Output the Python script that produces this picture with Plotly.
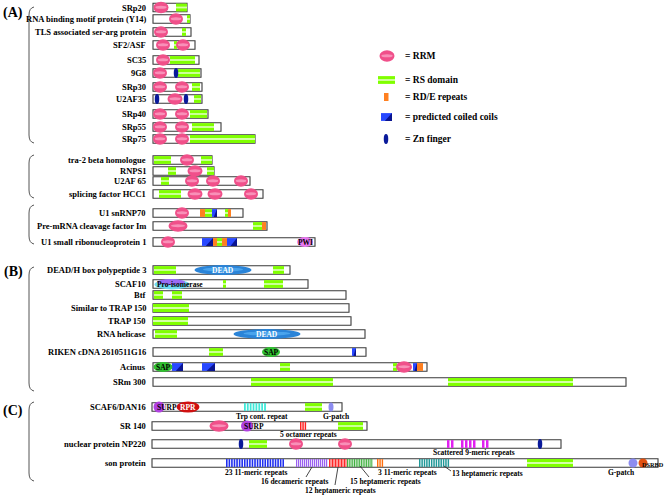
import plotly.graph_objects as go

# ---------------- data ----------------
names = ["SRp20", "RNA binding motif protein (Y14)", "TLS associated ser-arg protein", "SF2/ASF",
         "SC35", "9G8", "SRp30", "U2AF35", "SRp40", "SRp55", "SRp75",
         "tra-2 beta homologue", "RNPS1", "U2AF 65", "splicing factor HCC1",
         "U1 snRNP70", "Pre-mRNA cleavage factor Im", "U1 small ribonucleoprotein 1",
         "DEAD/H box polypeptide 3", "SCAF10", "Btf", "Similar to TRAP 150", "TRAP 150",
         "RNA helicase", "RIKEN cDNA 2610511G16", "Acinus", "SRm 300",
         "SCAF6/DAN16", "SR 140", "nuclear protein NP220", "son protein"]
row_y = [7.5, 19, 32, 45, 60, 73, 87, 99, 114, 127, 139,
         160, 171, 181, 194,
         213, 226, 242,
         270, 284, 295, 308, 321, 334, 352, 367, 382,
         407, 426, 444, 463]
seq_start = [153] * 27 + [152] * 4
seq_end = [187, 190, 191, 195, 199, 201, 202, 202, 208, 221, 255,
           212, 214, 250, 263,
           243, 267, 315,
           290, 308, 346, 349, 351, 365, 366, 427, 626,
           342, 367, 561, 658]

# RS domains (protein, start, end)
rs_domains = [("SRp20", 176, 187), ("RNA binding motif protein (Y14)", 187, 190),
              ("TLS associated ser-arg protein", 182, 186), ("SF2/ASF", 174, 177),
              ("SC35", 170, 195), ("9G8", 178, 200), ("SRp30", 192, 200), ("U2AF35", 194, 201),
              ("SRp40", 190, 207), ("SRp55", 192, 214), ("SRp75", 190, 255),
              ("tra-2 beta homologue", 154, 171), ("tra-2 beta homologue", 201, 212),
              ("RNPS1", 168, 176), ("RNPS1", 207, 214), ("U2AF 65", 161, 169),
              ("splicing factor HCC1", 159, 181),
              ("U1 snRNP70", 205, 212), ("U1 snRNP70", 225, 228),
              ("Pre-mRNA cleavage factor Im", 253, 262),
              ("U1 small ribonucleoprotein 1", 217, 222),
              ("DEAD/H box polypeptide 3", 154, 176), ("DEAD/H box polypeptide 3", 273, 284),
              ("SCAF10", 223, 226), ("SCAF10", 264, 283),
              ("Btf", 154, 163), ("Btf", 172, 182),
              ("Similar to TRAP 150", 153, 189), ("TRAP 150", 153, 188),
              ("RNA helicase", 155, 177), ("RIKEN cDNA 2610511G16", 209, 223),
              ("Acinus", 280, 290), ("Acinus", 393, 397),
              ("SRm 300", 251, 333), ("SRm 300", 448, 573),
              ("SCAF6/DAN16", 305, 322), ("SR 140", 338, 363),
              ("nuclear protein NP220", 249, 267), ("son protein", 527, 573)]

# RRM (protein, centre, width)
rrm = [("SRp20", 161, 15), ("RNA binding motif protein (Y14)", 176, 14),
       ("TLS associated ser-arg protein", 161, 14), ("SF2/ASF", 163, 14), ("SF2/ASF", 183, 14),
       ("SC35", 163, 14), ("9G8", 160, 14), ("SRp30", 160, 14), ("SRp30", 182, 14),
       ("U2AF35", 175, 15), ("SRp40", 160, 14), ("SRp40", 182, 14),
       ("SRp55", 160, 14), ("SRp55", 182, 14), ("SRp75", 160, 14), ("SRp75", 182, 14),
       ("tra-2 beta homologue", 187, 14), ("RNPS1", 195, 15),
       ("U2AF 65", 192, 14), ("U2AF 65", 213, 14), ("U2AF 65", 241, 14),
       ("splicing factor HCC1", 195, 15), ("splicing factor HCC1", 215, 15),
       ("splicing factor HCC1", 251, 14),
       ("U1 snRNP70", 182, 14), ("Pre-mRNA cleavage factor Im", 178, 19),
       ("U1 small ribonucleoprotein 1", 168, 14), ("Acinus", 404, 16),
       ("SR 140", 219, 19), ("nuclear protein NP220", 296, 14), ("nuclear protein NP220", 345, 14)]

# Zn fingers (protein, centre)
zn_fingers = [("9G8", 176), ("U2AF35", 157), ("U2AF35", 186),
              ("nuclear protein NP220", 241), ("nuclear protein NP220", 540)]

# RD/E repeats (protein, start, end)
rde = [("U1 snRNP70", 200, 205), ("U1 snRNP70", 228, 231), ("Pre-mRNA cleavage factor Im", 262, 266),
       ("U1 small ribonucleoprotein 1", 213, 217), ("U1 small ribonucleoprotein 1", 222, 227),
       ("Acinus", 417, 423)]

# predicted coiled coils (protein, start, end)
coils = [("U1 snRNP70", 212, 217), ("U1 small ribonucleoprotein 1", 202, 213),
         ("U1 small ribonucleoprotein 1", 227, 237), ("RIKEN cDNA 2610511G16", 352, 356),
         ("Acinus", 172, 183), ("Acinus", 202, 215), ("Acinus", 413, 417)]

# other named domains (protein, kind, label, centre, width)
other_domains = [("U1 small ribonucleoprotein 1", "PWI", "PWI", 305, 16),
                 ("DEAD/H box polypeptide 3", "DEAD", "DEAD", 223, 57),
                 ("SCAF10", "PRO", "Pro-isomerase", 172, 35),
                 ("RNA helicase", "DEAD", "DEAD", 267, 67),
                 ("RIKEN cDNA 2610511G16", "SAP", "SAP", 271, 18),
                 ("Acinus", "SAP", "SAP", 163, 19),
                 ("SCAF6/DAN16", "SURP", "SURP", 159, 11),
                 ("SCAF6/DAN16", "RPR", "RPR", 188, 23),
                 ("SCAF6/DAN16", "GP", "", 331, 5),
                 ("SR 140", "SURP", "SURP", 247, 12),
                 ("son protein", "GP", "", 633, 9),
                 ("son protein", "DSRBD", "DSRBD", 643, 9)]

# repeat blocks (protein, start, end, number of stripes, colour)
repeats = [("SCAF6/DAN16", 244, 267, 8, "#40e8d8"),
           ("SR 140", 300, 307, 3, "#ff2020"),
           ("nuclear protein NP220", 447, 455, 2, "#e020f0"),
           ("nuclear protein NP220", 461, 477, 4, "#e020f0"),
           ("nuclear protein NP220", 482, 490, 2, "#e020f0"),
           ("son protein", 226, 285, 23, "#2030f0"),
           ("son protein", 296, 328, 16, "#9a60f0"),
           ("son protein", 329, 347, 12, "#ff1818"),
           ("son protein", 347, 373, 15, "#40b040"),
           ("son protein", 377, 384, 3, "#ff7010"),
           ("son protein", 419, 450, 13, "#209898")]

# repeat labels (text, x, y)
repeat_labels = [("Trp cont. repeat", 262, 416), ("G-patch", 336, 416),
                 ("5 octamer repeats", 308, 434), ("Scattered 9-meric repeats", 474, 452),
                 ("23 11-meric repeats", 256, 472), ("16 decameric repeats", 294, 481),
                 ("12 heptameric repeats", 340, 490), ("15 heptameric repeats", 385, 481),
                 ("3 11-meric repeats", 407, 472), ("13 heptameric repeats", 487, 473),
                 ("G-patch", 621, 472)]
leader_lines = [(312, 467, 306, 477), (338, 467, 335, 485), (360, 466, 369, 477), (444, 466, 451, 471)]

# sections and brackets
section_labels = [("(A)", 13, 13), ("(B)", 13, 272), ("(C)", 13, 411)]
brackets = [(7, 143), (155, 198), (205, 244), (267, 391), (402, 481)]

legend_items = ["= RRM", "= RS domain", "= RD/E repeats", "= predicted coiled coils", "= Zn finger"]
legend_y = [56, 80, 97, 117, 139]

# ---------------- drawing ----------------
FONT = "Liberation Serif, Times New Roman, serif"
ymap = dict(zip(names, row_y))
H = 4.2
shapes = []
annots = []


def rect(x0, x1, y0, y1, fill, line="rgba(0,0,0,0)", lw=0):
    shapes.append(dict(type="rect", x0=x0, x1=x1, y0=y0, y1=y1, fillcolor=fill,
                       line=dict(color=line, width=lw), layer="above"))


def ell(xc, yc, w, h, fill):
    shapes.append(dict(type="circle", x0=xc - w / 2, x1=xc + w / 2, y0=yc - h / 2, y1=yc + h / 2,
                       fillcolor=fill, line=dict(width=0), layer="above"))


def text(t, x, y, size=8.5, anchor="center", color="black"):
    annots.append(dict(text="<b>" + t + "</b>", x=x, y=y, xanchor=anchor, yanchor="middle",
                       showarrow=False, font=dict(family=FONT, size=size, color=color)))


def rs_box(x0, x1, y):
    rect(x0, x1, y - H + 0.3, y + H - 0.3, "#80ff00")
    rect(x0, x1, y - 0.9, y + 0.9, "#d4ffa8")


def rrm_shape(xc, y, w):
    ell(xc, y, w, 11.5, "#f0508a")
    ell(xc, y - 0.3, w * 0.75, 3, "#f890b8")


def coil_shape(x0, x1, y):
    rect(x0, x1, y - H + 0.3, y + H - 0.3, "#2848ff")
    shapes.append(dict(type="path", path=f"M {x0+(x1-x0)*0.35},{y+H-0.3} L {x1},{y-H+0.3} L {x1},{y+H-0.3} Z",
                       fillcolor="#0a1490", line=dict(width=0), layer="above"))


# bars
for n, y, s, e in zip(names, row_y, seq_start, seq_end):
    rect(s, e, y - H, y + H, "white", "#3a3a3a", 1.1)
    text(n, 148, y, 8.5, "right")

for p, x0, x1 in rs_domains:
    rs_box(x0, x1, ymap[p])
for p, x0, x1 in rde:
    rect(x0, x1, ymap[p] - H + 0.3, ymap[p] + H - 0.3, "#ff8020")
for p, x0, x1 in coils:
    coil_shape(x0, x1, ymap[p])
for p, xc, w in rrm:
    rrm_shape(xc, ymap[p], w)
for p, xc in zn_fingers:
    ell(xc, ymap[p], 4.5, 10, "#0a1a9a")

for p, x0, x1, n, col in repeats:
    y = ymap[p]
    step = (x1 - x0) / n
    for i in range(n):
        rect(x0 + i * step, x0 + i * step + step * 0.62, y - H + 0.3, y + H - 0.3, col)

styles = {"PWI": ("#e878f0", 10, "black"), "DEAD": ("#2a84d8", 10, "white"),
          "PRO": ("#70d8f0", 10, "black"), "SAP": ("#30c030", 10, "black"),
          "SURP": ("#b040e0", 11, "black"), "RPR": ("#d01010", 11, "white"),
          "GP": ("#8c8cf0", 9, "black"), "DSRBD": ("#e05010", 9, "black")}
for p, kind, lab, xc, w in other_domains:
    y = ymap[p]
    fill, h, tc = styles[kind]
    if kind == "PRO":
        ell(xc, y + 0.5, w, h, fill)
        ell(xc - 1, y - 2, w * 0.8, 6, "#9a6cf4")
        text(lab, 155, y, 7.5, "left")
        continue
    ell(xc, y, w, h, fill)
    if kind == "DEAD":
        ell(xc, y - 0.5, w * 0.7, 4, "#4aa4ec")
    if lab:
        if kind == "SURP":
            text(lab, xc - w / 2 + 1, y, 7.5, "left", tc)
        elif kind == "DSRBD":
            text(lab, xc - 3.5, y + 1, 6.3, "left", tc)
        else:
            text(lab, xc, y, 7.5, "center", tc)

for t, x, y in repeat_labels:
    text(t, x, y, 7.5)
for x0, y0, x1, y1 in leader_lines:
    shapes.append(dict(type="line", x0=x0, y0=y0, x1=x1, y1=y1, line=dict(color="#333", width=0.9)))

for t, x, y in section_labels:
    text(t, x, y, 14)
for y0, y1 in brackets:
    shapes.append(dict(type="path",
                       path=f"M 34,{y0} Q 29,{y0+1} 29,{y0+8} L 29,{y1-8} Q 29,{y1-1} 34,{y1}",
                       line=dict(color="#555", width=1)))

# legend
rrm_shape(387, legend_y[0], 15)
rs_box(378, 395, legend_y[1])
rect(384, 388.5, legend_y[2] - 4, legend_y[2] + 4, "#ff8020")
coil_shape(381, 392, legend_y[3])
ell(386, legend_y[4], 4.5, 10, "#0a1a9a")
for t, y in zip(legend_items, legend_y):
    text(t, 403, y, 9.5, "left")

fig = go.Figure()
fig.add_trace(go.Scatter(x=[0, 664], y=[0, 496], mode="markers", marker=dict(opacity=0), hoverinfo="skip",
                         showlegend=False))
fig.update_layout(width=664, height=496, margin=dict(l=0, r=0, t=0, b=0),
                  paper_bgcolor="white", plot_bgcolor="white", shapes=shapes, annotations=annots,
                  xaxis=dict(range=[0, 664], visible=False, fixedrange=True),
                  yaxis=dict(range=[496, 0], visible=False, fixedrange=True),
                  showlegend=False)
fig.write_html("out.html", config={"displayModeBar": False},
               post_script="document.body.style.margin='0';")
